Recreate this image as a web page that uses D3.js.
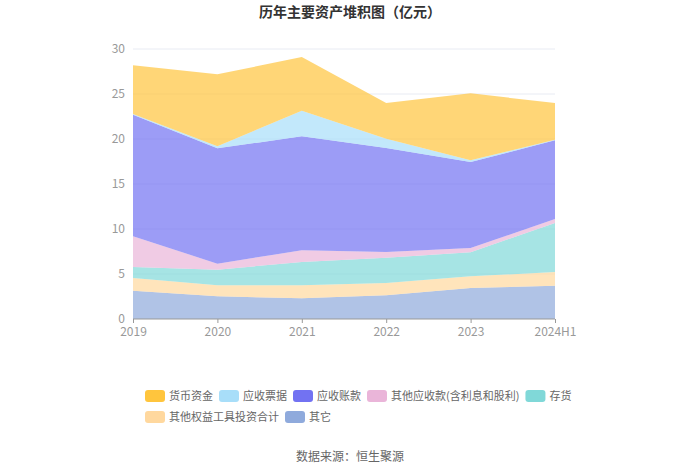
<!DOCTYPE html>
<html>
<head>
<meta charset="utf-8">
<script src="https://cdn.jsdelivr.net/npm/d3@7"></script>
<style>
  body { margin: 0; background: #fff; }
  text { font-family: "Noto Sans CJK SC", "Noto Sans", sans-serif; }
</style>
</head>
<body>
<div id="chart"></div>
<script>
// years on the x axis
var years = ["2019", "2020", "2021", "2022", "2023", "2024H1"];

// series, bottom to top of the stack (亿元)
var qita      = [3.15, 2.52, 2.30, 2.63, 3.44, 3.70];
var quanyi    = [1.41, 1.22, 1.44, 1.37, 1.30, 1.52];
var cunhuo    = [1.22, 1.74, 2.59, 2.81, 2.67, 5.45];
var qitaYs    = [3.41, 0.67, 1.30, 0.63, 0.48, 0.44];
var yszk      = [13.50, 12.81, 12.67, 11.56, 9.55, 8.74];
var yspj      = [0.10, 0.23, 2.85, 1.04, 0.19, 0.08];
var huobi     = [5.40, 8.00, 5.95, 3.96, 7.44, 4.07];

var yTicks = [0, 5, 10, 15, 20, 25, 30];

var series = [
  {name: "其它", values: qita, color: "#8faadc"},
  {name: "其他权益工具投资合计", values: quanyi, color: "#ffd89e"},
  {name: "存货", values: cunhuo, color: "#80d8d8"},
  {name: "其他应收款(含利息和股利)", values: qitaYs, color: "#eab5d9"},
  {name: "应收账款", values: yszk, color: "#7272f2"},
  {name: "应收票据", values: yspj, color: "#a8def9"},
  {name: "货币资金", values: huobi, color: "#ffc53d"}
];
// legend order as in the picture
var legendOrder = ["货币资金", "应收票据", "应收账款", "其他应收款(含利息和股利)", "存货", "其他权益工具投资合计", "其它"];

var width = 700, height = 473;
var svg = d3.select("#chart").append("svg")
    .attr("width", width)
    .attr("height", height);

var x = d3.scalePoint().domain(years).range([133, 555]);
var y = d3.scaleLinear().domain([0, 30]).range([319, 49]);

// table for d3.stack
var rows = years.map(function(yr, i) {
  var r = {year: yr};
  series.forEach(function(s) { r[s.name] = s.values[i]; });
  return r;
});
var stacked = d3.stack().keys(series.map(function(s) { return s.name; }))(rows);

// grid lines
svg.append("g").selectAll("line")
    .data(yTicks.slice(1))
    .enter().append("line")
    .attr("x1", 133).attr("x2", 555)
    .attr("y1", function(d) { return y(d); })
    .attr("y2", function(d) { return y(d); })
    .style("stroke", "#e8ebf3");

var area = d3.area()
    .x(function(d) { return x(d.data.year); })
    .y0(function(d) { return y(d[0]); })
    .y1(function(d) { return y(d[1]); });

svg.append("g").selectAll("path")
    .data(stacked)
    .enter().append("path")
    .attr("d", area)
    .style("fill", function(d, i) { return series[i].color; })
    .style("fill-opacity", 0.7);

// y axis
var yAxis = svg.append("g")
    .attr("transform", "translate(133,0)")
    .call(d3.axisLeft(y).tickValues(yTicks).tickSize(0).tickPadding(8));
yAxis.select(".domain").remove();
yAxis.selectAll("text").style("fill", "#999").style("font-size", "12px");

// x axis
var xAxis = svg.append("g")
    .attr("transform", "translate(0,319)")
    .call(d3.axisBottom(x).tickSize(4).tickPadding(4));
xAxis.select(".domain").style("stroke", "#999").attr("d", "M133,0H555");
xAxis.selectAll("line").style("stroke", "#999");
xAxis.selectAll("text").style("fill", "#999").style("font-size", "12px");

// title
svg.append("text")
    .attr("x", 350).attr("y", 17)
    .attr("text-anchor", "middle")
    .style("font-size", "14px")
    .style("font-weight", "bold")
    .style("fill", "#333")
    .text("历年主要资产堆积图（亿元）");

// legend
var legend = svg.append("g");
var lx = 145, ly = 396;
legendOrder.forEach(function(name) {
  var s = series.find(function(t) { return t.name === name; });
  var g = legend.append("g");
  var t = g.append("text")
      .attr("x", lx + 24).attr("y", ly + 4)
      .style("font-size", "11px")
      .style("fill", "#666")
      .text(name);
  var w = t.node().getComputedTextLength();
  if (lx + 24 + w > 600) {
    lx = 145; ly += 21;
    t.attr("x", lx + 24).attr("y", ly + 4);
  }
  g.insert("rect", "text")
      .attr("x", lx).attr("y", ly - 6)
      .attr("width", 20).attr("height", 12)
      .attr("rx", 3)
      .style("fill", s.color);
  lx += 24 + w + 6;
});

// source
svg.append("text")
    .attr("x", 350).attr("y", 461)
    .attr("text-anchor", "middle")
    .style("font-size", "12px")
    .style("fill", "#666")
    .text("数据来源：恒生聚源");
</script>
</body>
</html>
